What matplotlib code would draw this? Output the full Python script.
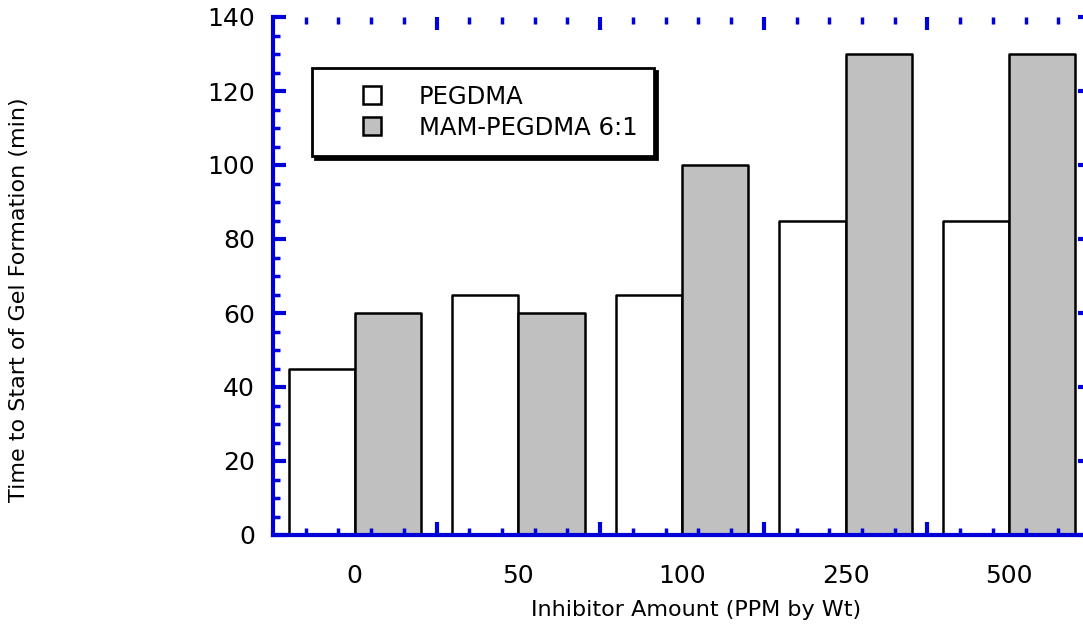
import numpy as np
import matplotlib
matplotlib.use("Agg")
import matplotlib.pyplot as plt
from matplotlib.patches import Rectangle
from matplotlib.container import BarContainer
from matplotlib.legend_handler import HandlerPatch, update_from_first_child
from matplotlib.ticker import MultipleLocator

categories = ["0", "50", "100", "250", "500"]
pegdma = [45, 65, 65, 85, 85]
mam_pegdma = [60, 60, 100, 130, 130]
series_names = ["PEGDMA", "MAM-PEGDMA 6:1"]

blue = "#0000d8"
gray = "#c0c0c0"

fig = plt.figure(figsize=(10.83, 6.29), dpi=100)
ax = fig.add_axes([273 / 1083, 1 - 535 / 629, 818 / 1083, 518 / 629])

x = np.arange(len(categories))
w = 0.405
ax.bar(x - w / 2, pegdma, w, color="white", edgecolor="black", linewidth=1.8,
       label=series_names[0], joinstyle="round")
ax.bar(x + w / 2, mam_pegdma, w, color=gray, edgecolor="black", linewidth=1.8,
       label=series_names[1], joinstyle="round")

ax.set_xlim(-0.5, len(categories) - 0.5)
ax.set_ylim(0, 140)

# spines: left/bottom solid blue, top/right only ticks
for s in ["top", "right"]:
    ax.spines[s].set_visible(False)
for s in ["left", "bottom"]:
    ax.spines[s].set_color(blue)
    ax.spines[s].set_linewidth(3)

# y ticks
ax.yaxis.set_major_locator(MultipleLocator(20))
ax.yaxis.set_minor_locator(MultipleLocator(5))
# x ticks: long ticks at group boundaries, short ones in between
bounds = np.arange(-0.5, len(categories), 1.0)
ax.set_xticks(bounds[1:-1])
ax.set_xticklabels([])
minor = [b + f for b in bounds[:-1] for f in (0.2, 0.4, 0.6, 0.8)]
ax.set_xticks(minor, minor=True)

ax.tick_params(which="both", direction="in", color=blue, top=True, right=True)
ax.tick_params(which="major", length=9.5, width=3)
ax.tick_params(which="minor", length=5, width=2.5)
ax.tick_params(axis="y", which="major", labelsize=18, pad=13)

# category labels at group centres
sec = ax.secondary_xaxis("bottom")
sec.set_xticks(x, categories)
sec.tick_params(length=0, labelsize=18, pad=21)
sec.spines["bottom"].set_visible(False)

ax.set_xlabel("Inhibitor Amount (PPM by Wt)", fontsize=16)
ax.xaxis.set_label_coords(0.517, -0.125)
ax.set_ylabel("Time to Start of Gel Formation (min)", fontsize=16)
ax.yaxis.set_label_coords(-0.298, 0.454)


def square(legend, orig_handle, xdescent, ydescent, width, height, fontsize):
    s = 0.74 * fontsize
    return Rectangle((width - s - xdescent, (height - s) / 2 - ydescent), s, s)


leg = ax.legend(loc="upper left", bbox_to_anchor=(0.048, 0.9015), borderaxespad=0,
                fontsize=17.5, fancybox=False, edgecolor="black", framealpha=1,
                shadow={"color": "black", "alpha": 1},
                handlelength=2.14, handleheight=0.74, handletextpad=1.56,
                borderpad=0.68, labelspacing=0.29,
                handler_map={BarContainer: HandlerPatch(
                    patch_func=square, update_func=update_from_first_child)})
leg.get_frame().set_linewidth(2)

fig.savefig("out.png", dpi=100)
